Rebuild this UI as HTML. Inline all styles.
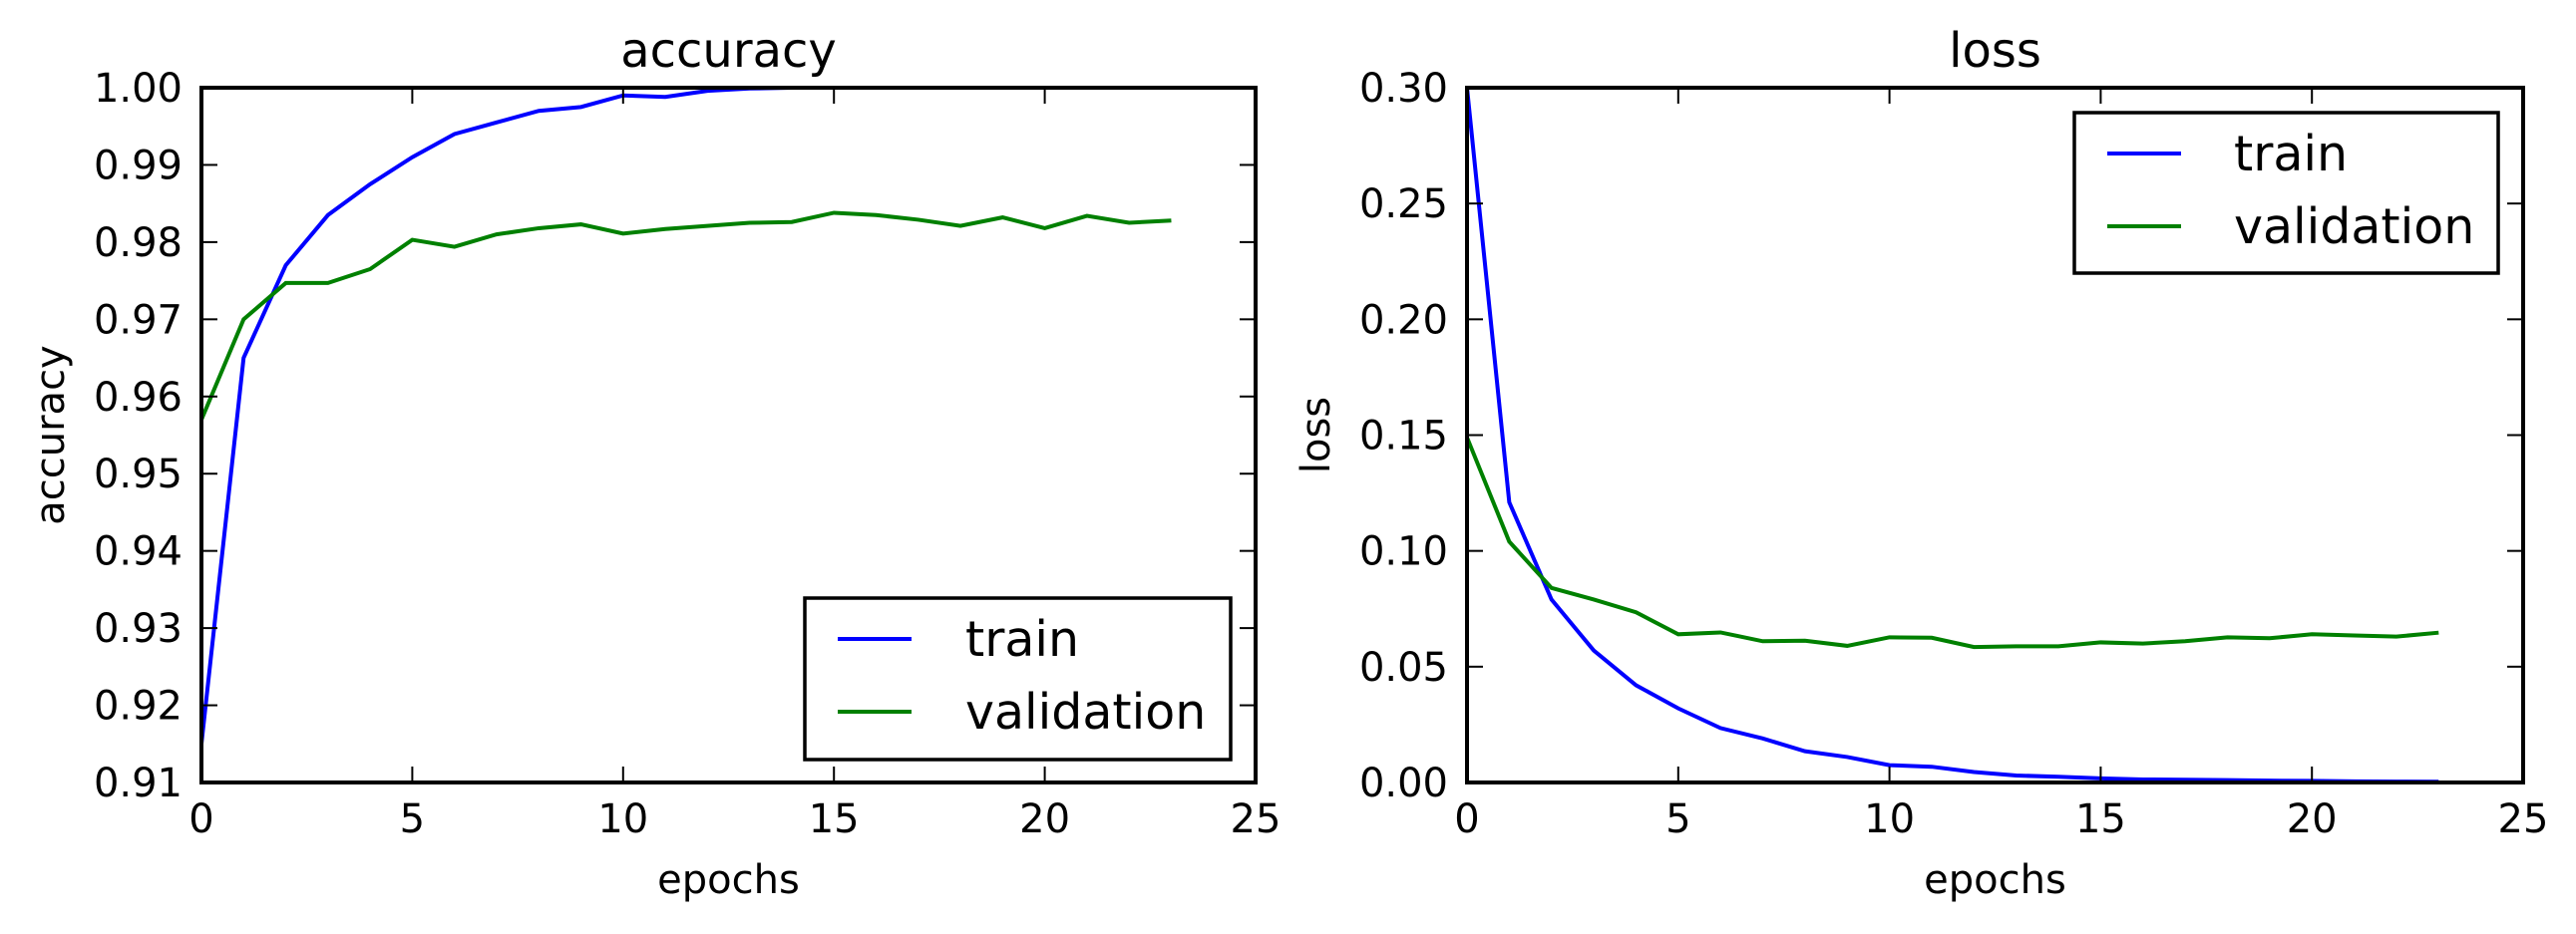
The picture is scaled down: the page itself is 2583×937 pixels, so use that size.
<!DOCTYPE html>
<html><head><meta charset="utf-8"><style>
html,body{margin:0;padding:0;background:#fff;}
svg{display:block;}
text{font-family:"DejaVu Sans","Liberation Sans",sans-serif;fill:#000;}
</style></head><body>
<svg id="fig" width="2583" height="937" viewBox="0 0 2583 937" xmlns="http://www.w3.org/2000/svg"></svg>
<script>
const epochs = [0,1,2,3,4,5,6,7,8,9,10,11,12,13,14,15,16,17,18,19,20,21,22,23];
const accTrain = [0.915,0.965,0.977,0.9835,0.9875,0.991,0.994,0.9955,0.997,0.9975,0.999,0.9988,0.9996,0.9999,1.0,1.0,1.0,1.0,1.0,1.0,1.0,1.0,1.0,1.0];
const accVal = [0.957,0.970,0.9747,0.9747,0.9765,0.9803,0.9794,0.9810,0.9818,0.9823,0.9811,0.9817,0.9821,0.9825,0.9826,0.9838,0.9835,0.9829,0.9821,0.9832,0.9818,0.9834,0.9825,0.9828];
const lossTrain = [0.30,0.121,0.079,0.057,0.042,0.032,0.0235,0.019,0.0135,0.011,0.0075,0.0068,0.0045,0.003,0.0025,0.0018,0.0013,0.0012,0.001,0.0008,0.0007,0.0005,0.0004,0.0003];
const lossVal = [0.149,0.104,0.084,0.079,0.0735,0.064,0.0648,0.061,0.0612,0.059,0.0627,0.0625,0.0585,0.0588,0.0588,0.0605,0.060,0.061,0.0627,0.0623,0.064,0.0635,0.063,0.0647];
const xTicks = [0,5,10,15,20,25];
const accTicks = [0.91,0.92,0.93,0.94,0.95,0.96,0.97,0.98,0.99,1.00];
const lossTicks = [0.00,0.05,0.10,0.15,0.20,0.25,0.30];

const NS="http://www.w3.org/2000/svg";
const svg=document.getElementById('fig');
function mk(tag,attrs,parent){const e=document.createElementNS(NS,tag);for(const k in attrs)e.setAttribute(k,attrs[k]);(parent||svg).appendChild(e);return e;}

function panel(cfg){
  const g=mk('g',{});
  
  
  const L=cfg.x0,R=cfg.x1,T=88,B=785;
  const sx=v=>L+(v-0)/(25-0)*(R-L);
  const sy=v=>B-(v-cfg.ymin)/(cfg.ymax-cfg.ymin)*(B-T);
  const cid='clip-'+cfg.name;
  const cp=mk('clipPath',{id:cid},g);mk('rect',{x:L,y:T,width:R-L,height:B-T},cp);
  cfg.series.forEach(s=>{
    const d=s.vals.map((v,i)=>(i?'L':'M')+sx(epochs[i]).toFixed(2)+','+sy(v).toFixed(2)).join(' ');
    const p=mk('path',{d:d,fill:'none',stroke:s.color,'stroke-width':4,'stroke-linejoin':'miter','clip-path':'url(#'+cid+')'},g);
    
    
  });
  xTicks.forEach(t=>{
    const x=sx(t);
    mk('line',{x1:x,y1:B,x2:x,y2:B-16,stroke:'#000','stroke-width':2},g);
    mk('line',{x1:x,y1:T,x2:x,y2:T+16,stroke:'#000','stroke-width':2},g);
    const tx=mk('text',{x:x,y:835,'font-size':40,'text-anchor':'middle'},g);tx.textContent=String(t);
    
    
  });
  cfg.yticks.forEach(t=>{
    const y=sy(t);
    mk('line',{x1:L,y1:y,x2:L+16,y2:y,stroke:'#000','stroke-width':2},g);
    mk('line',{x1:R,y1:y,x2:R-16,y2:y,stroke:'#000','stroke-width':2},g);
    const tx=mk('text',{x:L-19,y:y+14,'font-size':40,'text-anchor':'end'},g);tx.textContent=t.toFixed(2);
    
    
  });
  const fr=mk('rect',{x:L,y:T,width:R-L,height:B-T,fill:'none',stroke:'#000','stroke-width':4},g);
  
  
  const ti=mk('text',{x:(L+R)/2,y:67,'font-size':48,'text-anchor':'middle'},g);ti.textContent=cfg.name;
  
  
  const xl=mk('text',{x:(L+R)/2,y:896,'font-size':40,'text-anchor':'middle'},g);xl.textContent='epochs';
  
  
  const yl=mk('text',{x:0,y:0,'font-size':40,'text-anchor':'middle',transform:'translate('+cfg.ylx+','+((T+B)/2)+') rotate(-90)'},g);yl.textContent=cfg.name;
  
  
  const lg=mk('g',{},g);
  
  
  const lb=cfg.legend;
  mk('rect',{x:lb.x0,y:lb.y0,width:lb.x1-lb.x0,height:lb.y1-lb.y0,fill:'#fff',stroke:'#000','stroke-width':3.5},lg);
  cfg.series.forEach((s,i)=>{
    const y=lb.ly[i];
    const ent=mk('g',{},lg);
    
    
    mk('line',{x1:lb.sx0,y1:y,x2:lb.sx0+74,y2:y,stroke:s.color,'stroke-width':4},ent);
    const t=mk('text',{x:lb.tx,y:y+17,'font-size':49},ent);t.textContent=s.key;
  });
}

panel({name:'accuracy',x0:202,x1:1259,ymin:0.91,ymax:1.0,yticks:accTicks,ylx:64,
  series:[{key:'train',vals:accTrain,color:'#0000ff'},{key:'validation',vals:accVal,color:'#008000'}],
  legend:{x0:807,x1:1234,y0:600,y1:762,ly:[641,714],sx0:840,tx:968}});
panel({name:'loss',x0:1471,x1:2530,ymin:0.0,ymax:0.30,yticks:lossTicks,ylx:1333,
  series:[{key:'train',vals:lossTrain,color:'#0000ff'},{key:'validation',vals:lossVal,color:'#008000'}],
  legend:{x0:2080,x1:2505,y0:113,y1:274,ly:[154,227],sx0:2113,tx:2240}});
</script>
</body></html>
